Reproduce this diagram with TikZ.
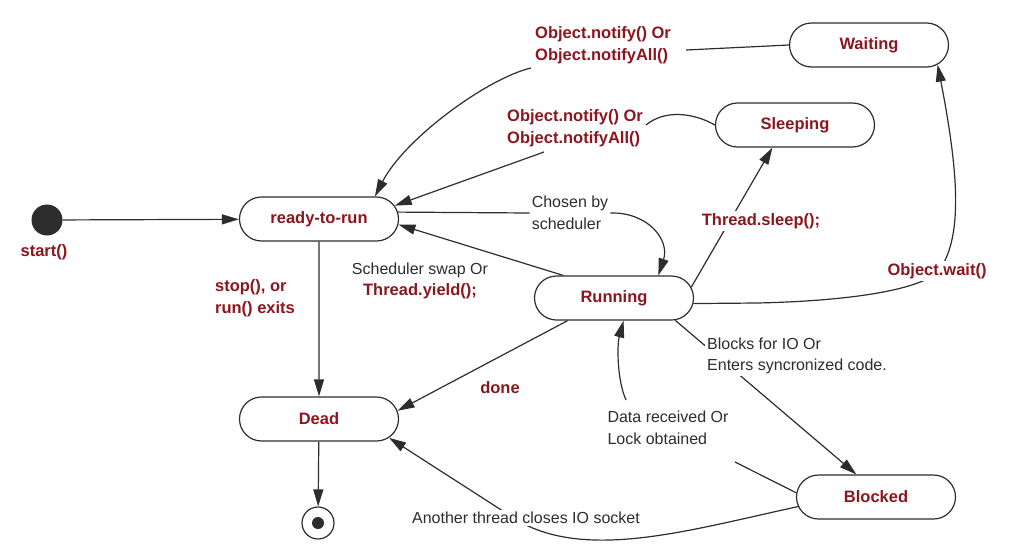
\documentclass[tikz,border=0pt]{standalone}
\usepackage{fontspec}
\setmainfont{Liberation Sans}
\usetikzlibrary{shapes.misc,arrows.meta,backgrounds}
\definecolor{statered}{RGB}{140,22,30}
\definecolor{ink}{RGB}{45,45,45}
\begin{document}
\begin{tikzpicture}[x=1pt,y=-1pt,
  state/.style={rounded rectangle, draw=ink, fill=white, line width=1.2pt,
    minimum width=163pt, minimum height=44pt, inner sep=2pt,
    font=\fontsize{16.5}{20}\selectfont\bfseries, text=statered},
  event/.style={font=\fontsize{16.5}{21.5}\selectfont\bfseries, text=statered,
    fill=white, inner sep=2pt, align=left},
  note/.style={font=\fontsize{16}{21.5}\selectfont, text=ink,
    fill=white, inner sep=2pt, align=left},
  link/.style={draw=ink, line width=1.2pt},
  arr/.style={link, -{Triangle[length=17pt,width=10pt]}},
]
\useasboundingbox (0,0) rectangle (1027,555);

% states
\node[state] (r)   at (319,219) {ready-to-run};
\node[state] (w)   at (869,45)  {Waiting};
\node[state] (s)   at (795,125) {Sleeping};
\node[state] (run) at (614,298) {Running};
\node[state] (d)   at (319,419) {Dead};
\node[state] (b)   at (876,497) {Blocked};

% initial and final pseudo-states
\node[circle, fill=ink, minimum size=31pt, inner sep=0pt] (start) at (47,220) {};
\node[circle, draw=ink, fill=white, line width=1.2pt, minimum size=32pt, inner sep=0pt] (end) at (318,523) {};
\fill[ink] (end.center) circle[radius=6];

% transition labels
\node[event] (startlbl) at (44,252) {start()};
\node[event] (notifyA) at (603,45) {Object.notify() Or\\Object.notifyAll()};
\node[event] (notifyB) at (575,128) {Object.notify() Or\\Object.notifyAll()};
\node[note]  (chosen)  at (570,213) {Chosen by\\scheduler};
\node[event] (sleeplbl) at (761,221) {Thread.sleep();};
\node[event] (waitlbl)  at (937,271) {Object.wait()};
\node[event, align=center] (swap) at (420,281)
  {{\mdseries\color{ink}\fontsize{16}{21.5}\selectfont Scheduler swap Or}\\Thread.yield();};
\node[event] (stoplbl) at (255,298) {stop(), or\\run() exits};
\node[event] (donelbl) at (500,388) {done};
\node[note]  (blocks)  at (797,356) {Blocks for IO Or\\Enters syncronized code.};
\node[note]  (datalbl) at (668,428) {Data received Or\\Lock obtained};
\node[note]  (another) at (526,518) {Another thread closes IO socket};

% loose ends of connectors that break around their labels
\coordinate (waitEnd)   at (686,50);
\coordinate (waitStart) at (531,68);
\coordinate (sleepEnd)  at (646,125);
\coordinate (sleepStart) at (544,152);
\coordinate (wBend)     at (757,303);
\coordinate (blkEnd)    at (735,462);
\coordinate (blkStart)  at (626,400);

\begin{scope}[on background layer]
  \draw[arr] (start) -- (r);
  % notify from Waiting
  \draw[link] (w.west) -- (waitEnd);
  \draw[arr] (waitStart) .. controls (488,78) and (405,138) .. (r.22);
  % notify from Sleeping
  \draw[link] (s.west) .. controls (692,112) and (664,110) .. (sleepEnd);
  \draw[arr] (sleepStart) -- (r.10);
  % chosen by scheduler
  \draw[link] (r.5) -- (chosen.west);
  \draw[arr] (chosen.east) .. controls (648,212) and (670,240) .. (run.27);
  % scheduler swap / yield
  \draw[arr] (run.156) -- (r.-4);
  % sleep
  \draw[arr] (run.8) -- (s.225);
  % wait
  \draw[arr] (run.-4) -- (wBend) .. controls (850,301) and (918,290) .. (938,272)
    .. controls (962,240) and (960,180) .. (w.-16);
  % blocks
  \draw[arr] (run.-20) -- (b.131);
  % data received / lock obtained
  \draw[link] (b.177) -- (blkEnd);
  \draw[arr] (blkStart) .. controls (617,380) and (617,345) .. (run.-67);
  % socket closed
  \draw[arr] (b.187) .. controls (690,530) and (590,560) .. (520,522) -- (d.-15);
  % done
  \draw[arr] (run.206) -- (d.6);
  % stop
  \draw[arr] (r) -- (d);
  \draw[arr] (d) -- (end);
\end{scope}
\end{tikzpicture}
\end{document}
